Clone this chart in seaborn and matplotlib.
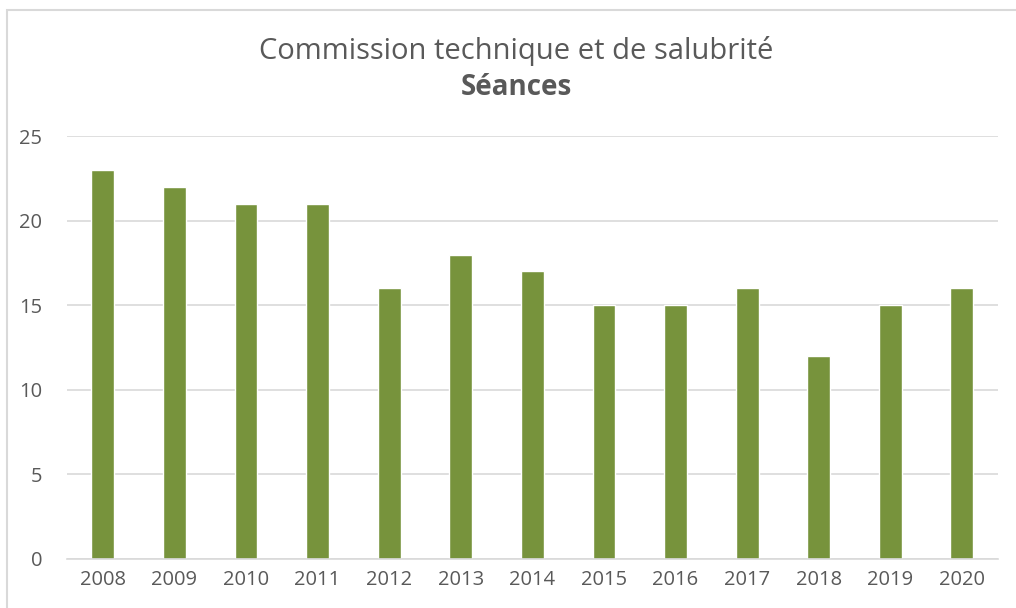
import pandas as pd
import matplotlib.pyplot as plt
import seaborn as sns
from matplotlib.patches import Rectangle

annees = ['2008', '2009', '2010', '2011', '2012', '2013', '2014',
          '2015', '2016', '2017', '2018', '2019', '2020']
seances = [23, 22, 21, 21, 16, 18, 17, 15, 15, 16, 12, 15, 16]

df = pd.DataFrame({'annee': annees, 'seances': seances})

sns.set_style('white')
plt.rcParams['font.family'] = ['Open Sans', 'DejaVu Sans']

fig = plt.figure(figsize=(10.16, 6.08), dpi=100)
ax = fig.add_axes([0.066, 0.081, 0.916, 0.695])

sns.barplot(data=df, x='annee', y='seances', color='#77933C',
            saturation=1, width=0.32, ax=ax)

ax.set_ylim(0, 25)
ax.set_yticks([0, 5, 10, 15, 20, 25])
ax.yaxis.grid(True, color='#D9D9D9', linewidth=1.2)
ax.set_axisbelow(True)
for s in ['top', 'right', 'left']:
    ax.spines[s].set_visible(False)
ax.spines['bottom'].set_color('#D9D9D9')
ax.spines['bottom'].set_linewidth(1.2)
ax.tick_params(axis='both', length=0, labelsize=14.5, labelcolor='#595959')
ax.tick_params(axis='y', pad=18)
ax.tick_params(axis='x', pad=8)
ax.set_xlabel('')
ax.set_ylabel('')

fig.text(0.508, 0.916, 'Commission technique et de salubrité',
         ha='center', va='center', fontsize=21, color='#595959')
fig.text(0.508, 0.856, 'Séances', ha='center', va='center',
         fontsize=20, fontweight='bold', color='#595959')

fig.patches.append(Rectangle((7 / 1016, -0.1), 1.2, 1 - 10 / 608 + 0.1,
                             transform=fig.transFigure, fill=False,
                             edgecolor='#D9D9D9', linewidth=1.5))

fig.savefig('out.png', dpi=100)
